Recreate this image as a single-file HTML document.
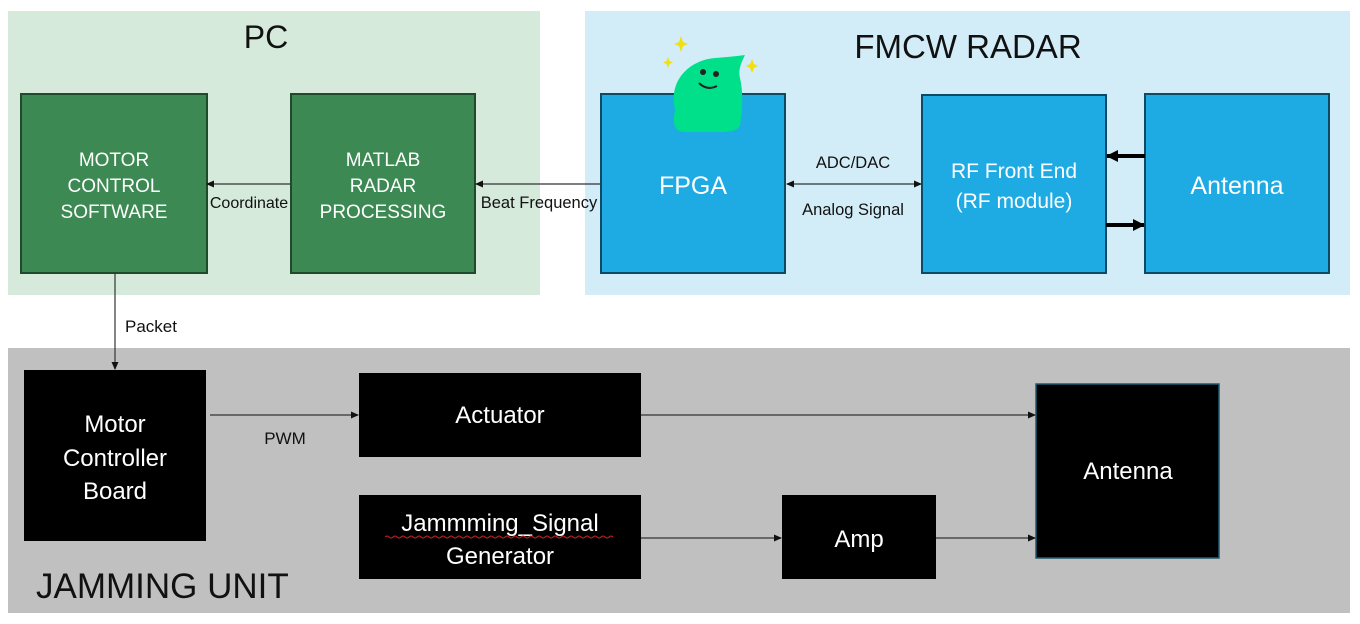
<!DOCTYPE html>
<html><head><meta charset="utf-8"><style>
html,body{margin:0;padding:0;background:#fff;}
svg{display:block;}
text{font-family:"Liberation Sans",sans-serif;}
</style></head><body>
<svg width="1360" height="624" viewBox="0 0 1360 624" xmlns="http://www.w3.org/2000/svg">
<defs>
<marker id="a" markerWidth="8" markerHeight="8" refX="7" refY="4" orient="auto" markerUnits="userSpaceOnUse"><path d="M0,0.5 L8,4 L0,7.5 z" fill="#111"/></marker>
<marker id="as" markerWidth="8" markerHeight="8" refX="1" refY="4" orient="auto" markerUnits="userSpaceOnUse"><path d="M8,0.5 L0,4 L8,7.5 z" fill="#111"/></marker>
<marker id="b" markerWidth="12" markerHeight="12" refX="11" refY="6" orient="auto" markerUnits="userSpaceOnUse"><path d="M0,0 L12,6 L0,12 z" fill="#000"/></marker>
</defs>
<rect x="8" y="11" width="532" height="284" fill="#d5eadb"/>
<rect x="585" y="11" width="765" height="284" fill="#d3edf8"/>
<rect x="8" y="348" width="1342" height="265" fill="#c0c0c0"/>
<text x="266" y="48" font-size="32" text-anchor="middle" fill="#111">PC</text>
<text x="968" y="58" font-size="33" text-anchor="middle" fill="#111">FMCW RADAR</text>
<text x="36" y="598" font-size="35" fill="#111">JAMMING UNIT</text>

<rect x="21" y="94" width="186" height="179" fill="#3d8953" stroke="#1f4a2c" stroke-width="2"/>
<text fill="#fff" font-size="19" text-anchor="middle"><tspan x="114" y="166">MOTOR</tspan><tspan x="114" y="192">CONTROL</tspan><tspan x="114" y="218">SOFTWARE</tspan></text>
<rect x="291" y="94" width="184" height="179" fill="#3d8953" stroke="#1f4a2c" stroke-width="2"/>
<text fill="#fff" font-size="19" text-anchor="middle"><tspan x="383" y="166">MATLAB</tspan><tspan x="383" y="192">RADAR</tspan><tspan x="383" y="218">PROCESSING</tspan></text>

<rect x="601" y="94" width="184" height="179" fill="#1eaae3" stroke="#0d4a66" stroke-width="2"/>
<text x="693" y="194" fill="#fff" font-size="25" text-anchor="middle">FPGA</text>
<rect x="922" y="95" width="184" height="178" fill="#1eaae3" stroke="#0d4a66" stroke-width="2"/>
<text fill="#fff" font-size="21" text-anchor="middle"><tspan x="1014" y="178">RF Front End</tspan><tspan x="1014" y="208">(RF module)</tspan></text>
<rect x="1145" y="94" width="184" height="179" fill="#1eaae3" stroke="#0d4a66" stroke-width="2"/>
<text x="1237" y="194" fill="#fff" font-size="25" text-anchor="middle">Antenna</text>

<path d="M675,110 C668,80 690,60 715,58 C728,57 738,56 745,55 C741,63 738,70 740,78 C744,95 742,115 740,125 C738,131 730,132 718,132 L685,132 C675,132 672,125 675,110 z" fill="#00e08a"/>
<circle cx="703" cy="72" r="3" fill="#222"/><circle cx="716" cy="74" r="3" fill="#222"/>
<path d="M699,83 Q707,91 717,86" stroke="#222" stroke-width="2" fill="none"/>
<path d="M681,36 l2,6 l5,2 l-5,2 l-2,6 l-2,-6 l-5,-2 l5,-2 z" fill="#f2df10"/>
<path d="M668,57 l1.5,4 l3.5,1.5 l-3.5,1.5 l-1.5,4 l-1.5,-4 l-3.5,-1.5 l3.5,-1.5 z" fill="#f2df10"/>
<path d="M752,59 l2,5 l4,2 l-4,2 l-2,5 l-2,-5 l-4,-2 l4,-2 z" fill="#f2df10"/>

<line x1="291" y1="184" x2="207" y2="184" stroke="#333" stroke-width="1.2" marker-end="url(#a)"/>
<text x="249" y="208" font-size="16" text-anchor="middle" fill="#111">Coordinate</text>
<line x1="601" y1="184" x2="476" y2="184" stroke="#333" stroke-width="1.2" marker-end="url(#a)"/>
<text x="539" y="208" font-size="16.5" text-anchor="middle" fill="#111">Beat Frequency</text>
<line x1="787" y1="184" x2="921" y2="184" stroke="#333" stroke-width="1.2" marker-start="url(#as)" marker-end="url(#a)"/>
<text x="853" y="168" font-size="16.5" text-anchor="middle" fill="#111">ADC/DAC</text>
<text x="853" y="215" font-size="16.5" text-anchor="middle" fill="#111">Analog Signal</text>
<line x1="1145" y1="156" x2="1107" y2="156" stroke="#000" stroke-width="4" marker-end="url(#b)"/>
<line x1="1106" y1="225" x2="1144" y2="225" stroke="#000" stroke-width="4" marker-end="url(#b)"/>

<line x1="115" y1="273" x2="115" y2="369" stroke="#333" stroke-width="1.2" marker-end="url(#a)"/>
<text x="125" y="332" font-size="17" fill="#111">Packet</text>

<rect x="24" y="370" width="182" height="171" fill="#000"/>
<text fill="#fff" font-size="24" text-anchor="middle"><tspan x="115" y="432">Motor</tspan><tspan x="115" y="466">Controller</tspan><tspan x="115" y="499">Board</tspan></text>
<rect x="359" y="373" width="282" height="84" fill="#000"/>
<text x="500" y="423" fill="#fff" font-size="24" text-anchor="middle">Actuator</text>
<rect x="359" y="495" width="282" height="84" fill="#000"/>
<text fill="#fff" font-size="24" text-anchor="middle"><tspan x="500" y="531">Jammming_Signal</tspan><tspan x="500" y="564">Generator</tspan></text>
<path d="M385,537 q2,-2 4,0 t4,0 t4,0 t4,0 t4,0 t4,0 t4,0 t4,0 t4,0 t4,0 t4,0 t4,0 t4,0 t4,0 t4,0 t4,0 t4,0 t4,0 t4,0 t4,0 t4,0 t4,0 t4,0 t4,0 t4,0 t4,0 t4,0 t4,0 t4,0 t4,0 t4,0 t4,0 t4,0 t4,0 t4,0 t4,0 t4,0 t4,0 t4,0 t4,0 t4,0 t4,0 t4,0 t4,0 t4,0 t4,0 t4,0 t4,0 t4,0 t4,0 t4,0 t4,0 t4,0 t4,0 t4,0 t4,0 t4,0" stroke="#d02020" stroke-width="1" fill="none"/>
<rect x="782" y="495" width="154" height="84" fill="#000"/>
<text x="859" y="547" fill="#fff" font-size="24" text-anchor="middle">Amp</text>
<rect x="1036" y="384" width="183" height="174" fill="#000" stroke="#1d5a70" stroke-width="1.5"/>
<text x="1128" y="479" fill="#fff" font-size="24" text-anchor="middle">Antenna</text>

<line x1="210" y1="415" x2="358" y2="415" stroke="#333" stroke-width="1.2" marker-end="url(#a)"/>
<text x="285" y="444" font-size="17" text-anchor="middle" fill="#111">PWM</text>
<line x1="641" y1="415" x2="1035" y2="415" stroke="#333" stroke-width="1.2" marker-end="url(#a)"/>
<line x1="641" y1="538" x2="781" y2="538" stroke="#333" stroke-width="1.2" marker-end="url(#a)"/>
<line x1="936" y1="538" x2="1035" y2="538" stroke="#333" stroke-width="1.2" marker-end="url(#a)"/>
</svg>
</body></html>
